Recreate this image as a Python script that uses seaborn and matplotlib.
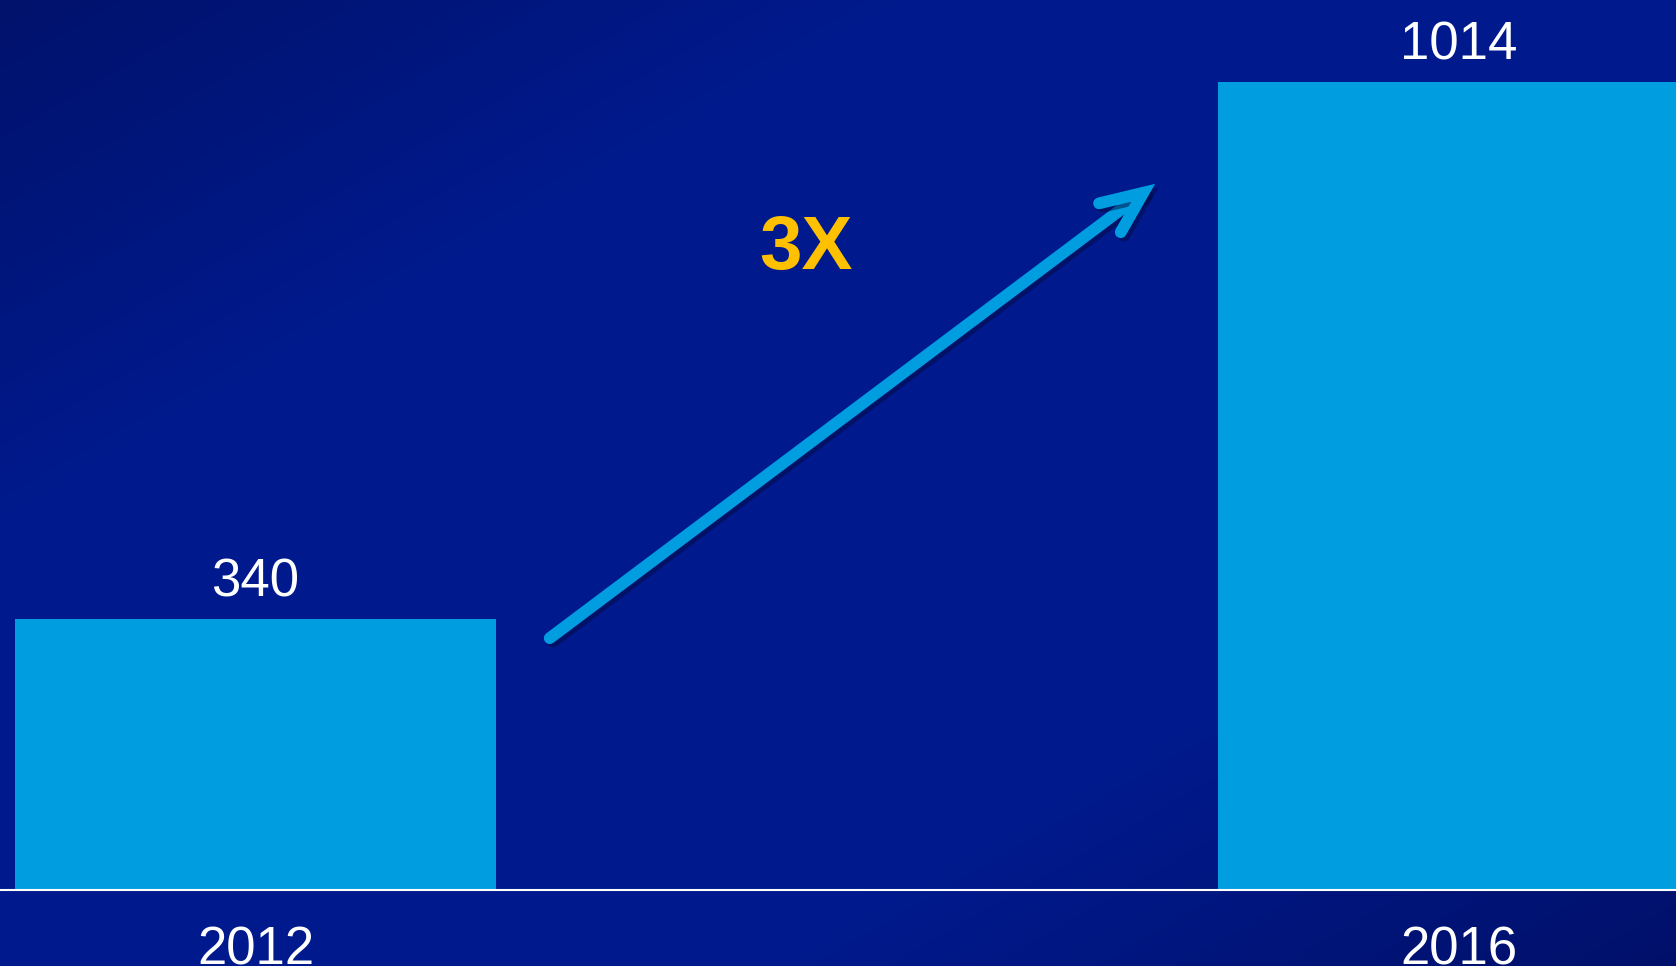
import numpy as np
import matplotlib
matplotlib.use("Agg")
import matplotlib.pyplot as plt
from matplotlib.colors import LinearSegmentedColormap
from matplotlib.patches import FancyArrowPatch
import matplotlib.patheffects as pe
import seaborn as sns

# ---- data ----
years = ["2012", "2016"]
values = [340, 1014]
growth_label = "3X"

sns.set_theme(style="white")
plt.rcParams["font.family"] = ["Liberation Sans", "DejaVu Sans"]

W, H, DPI = 16.76, 9.66, 100
fig = plt.figure(figsize=(W, H), dpi=DPI)

# background gradient (top-left dark -> centre brighter -> bottom-right dark)
bg = fig.add_axes([0, 0, 1, 1])
bg.set_axis_off()
nx, ny = 400, 230
gx, gy = np.meshgrid(np.linspace(0, 1, nx), np.linspace(0, 1, ny))
t = (gx + gy) / 2.0
cmap = LinearSegmentedColormap.from_list(
    "bg", [(0.0, "#00126c"), (0.28, "#001a8e"), (0.72, "#001a8e"), (1.0, "#00106a")])
bg.imshow(t, cmap=cmap, vmin=0, vmax=1, aspect="auto", extent=(0, 1, 1, 0),
          interpolation="bilinear")
bg.set_xlim(0, 1)
bg.set_ylim(1, 0)

ax = fig.add_axes([0, 0, 1, 1])
ax.patch.set_alpha(0)

bar_color = "#009ee0"
sns.barplot(x=years, y=values, color=bar_color, saturation=1, width=0.4,
            linewidth=0, ax=ax, zorder=2)

ax.set_xlim(-0.2123, 1.1803)
ax.set_ylim(-95.4, 1116.7)
ax.set_axis_off()

# baseline
ax.axhline(0, color="white", lw=1.5, zorder=3)

fs = 38
# value labels
for i, v in enumerate(values):
    ax.annotate(str(v), (i, v), xytext=(0, 16), textcoords="offset points",
                ha="center", va="baseline", color="white", fontsize=fs, zorder=4)
# category labels
for i, yr in enumerate(years):
    ax.text(i, -94, yr, ha="center", va="baseline", color="white", fontsize=fs,
            zorder=4, clip_on=False)

# growth arrow
arrow = FancyArrowPatch((0.2445, 316), (0.7475, 886),
                        arrowstyle="->,head_length=30,head_width=13",
                        mutation_scale=1, color=bar_color, lw=8.5,
                        shrinkA=0, shrinkB=0,
                        capstyle="round", joinstyle="miter", zorder=3)
arrow.set_path_effects([pe.SimpleLineShadow(offset=(2.5, -2.5), shadow_color="#000a40",
                                            alpha=0.5), pe.Normal()])
ax.add_patch(arrow)

ax.text(0.4574, 779, growth_label, ha="center", va="baseline", color="#ffc000",
        fontsize=55, fontweight="bold", zorder=4)

fig.savefig("out.png", dpi=DPI)
